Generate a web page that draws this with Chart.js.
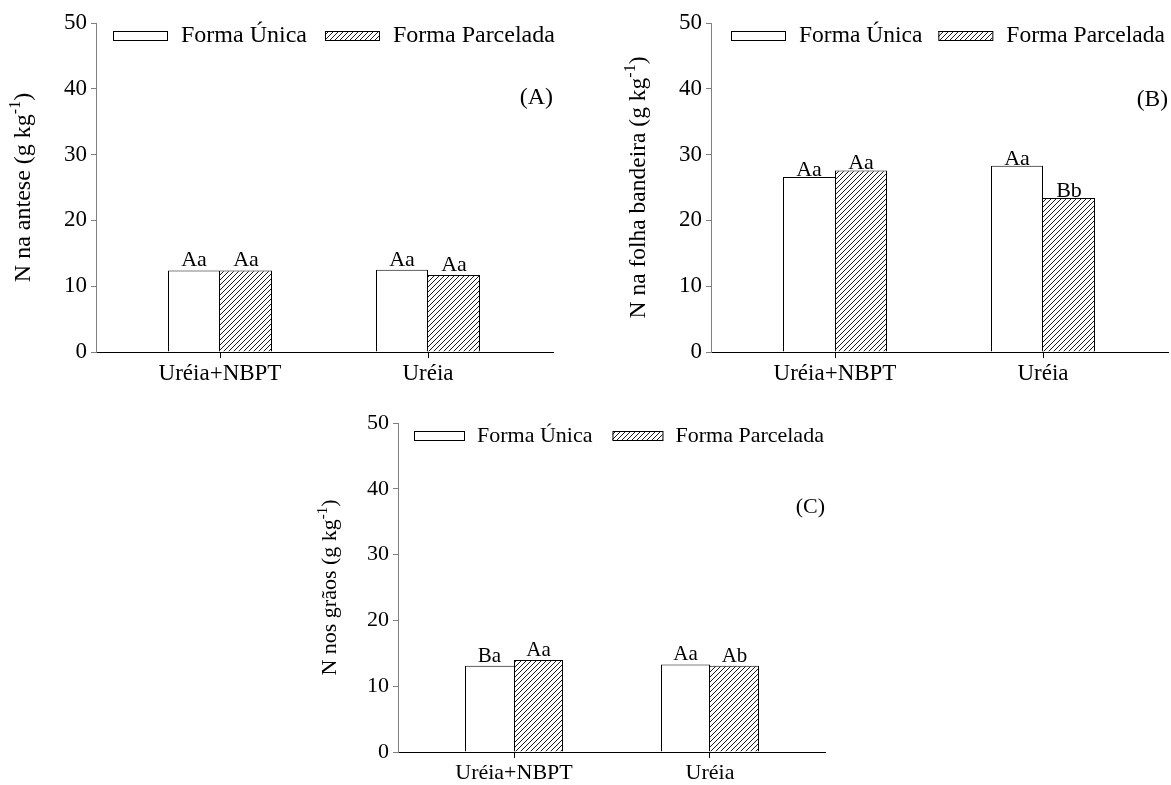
<!DOCTYPE html>
<html>
<head>
<meta charset="utf-8">
<script src="https://cdn.jsdelivr.net/npm/chart.js@4.4.1/dist/chart.umd.min.js"></script>
<style>
  html, body { margin: 0; padding: 0; background: #fff; }
  body { width: 1171px; height: 785px; position: relative; overflow: hidden; }
  canvas { position: absolute; }
</style>
</head>
<body>
<canvas id="chartA" width="580" height="390" style="left:0;top:0"></canvas>
<canvas id="chartB" width="556" height="390" style="left:615px;top:0"></canvas>
<canvas id="chartC" width="560" height="385" style="left:302px;top:400px"></canvas>
<script>
const categories = ['Uréia+NBPT', 'Uréia'];
const seriesNames = ['Forma Única', 'Forma Parcelada'];
const yTicks = [0, 10, 20, 30, 40, 50];

// (A) N na antese
const anteseUnica = [12.4, 12.5];
const anteseParcelada = [12.4, 11.7];
const anteseLetrasUnica = ['Aa', 'Aa'];
const anteseLetrasParcelada = ['Aa', 'Aa'];

// (B) N na folha bandeira
const folhaUnica = [26.6, 28.3];
const folhaParcelada = [27.6, 23.4];
const folhaLetrasUnica = ['Aa', 'Aa'];
const folhaLetrasParcelada = ['Aa', 'Bb'];

// (C) N nos grãos
const graosUnica = [13.1, 13.3];
const graosParcelada = [14.0, 13.1];
const graosLetrasUnica = ['Ba', 'Aa'];
const graosLetrasParcelada = ['Aa', 'Ab'];

const FONT = '"Liberation Serif", "Times New Roman", serif';

// diagonal hatch used for "Forma Parcelada"
function makeHatch() {
    const c = document.createElement('canvas');
    c.width = 5; c.height = 5;
    const g = c.getContext('2d');
    g.fillStyle = '#fff';
    g.fillRect(0, 0, 5, 5);
    g.strokeStyle = '#000';
    g.lineWidth = 0.9;
    g.beginPath();
    g.moveTo(-1, 6); g.lineTo(6, -1);
    g.moveTo(-1, 1); g.lineTo(1, -1);
    g.moveTo(4, 6); g.lineTo(6, 4);
    g.stroke();
    return g.createPattern(c, 'repeat');
}
const hatch = makeHatch();

// letters over bars, legend, panel tag and y title (with superscript)
const deco = {
    id: 'deco',
    afterDatasetsDraw(chart, args, o) {
        const { ctx, chartArea: a } = chart;
        ctx.save();
        ctx.fillStyle = '#000';

        ctx.font = `${o.labelSize}px ${FONT}`;
        ctx.textAlign = 'center';
        ctx.textBaseline = 'alphabetic';
        chart.data.datasets.forEach((ds, di) => {
            chart.getDatasetMeta(di).data.forEach((bar, i) => {
                ctx.fillText(o.letters[di][i], bar.x, bar.y - o.gap);
            });
        });

        // legend
        ctx.font = `${o.fs}px ${FONT}`;
        let x = a.left + o.legX;
        const by = a.top + o.legY;
        chart.data.datasets.forEach(ds => {
            ctx.fillStyle = ds.backgroundColor;
            ctx.fillRect(x, by, o.box, 9);
            ctx.strokeStyle = '#000';
            ctx.lineWidth = 1;
            ctx.strokeRect(x + 0.5, by + 0.5, o.box, 9);
            x += o.box + o.textGap;
            ctx.fillStyle = '#000';
            ctx.textAlign = 'left';
            ctx.textBaseline = 'middle';
            ctx.fillText(ds.label, x, by + 5);
            x += ctx.measureText(ds.label).width + o.itemGap;
        });

        // (A) (B) (C)
        ctx.textAlign = 'right';
        ctx.textBaseline = 'middle';
        ctx.fillText(o.tag, a.right, a.top + o.tagY);

        // y axis title
        const supFont = `${Math.round(o.fs * 0.68)}px ${FONT}`;
        const mainFont = `${o.fs}px ${FONT}`;
        ctx.font = mainFont;
        const w1 = ctx.measureText(o.title).width;
        const w3 = ctx.measureText(')').width;
        ctx.font = supFont;
        const w2 = ctx.measureText('-1').width;
        ctx.translate(a.left - o.titleDx, (a.top + a.bottom) / 2);
        ctx.rotate(-Math.PI / 2);
        ctx.textAlign = 'left';
        ctx.textBaseline = 'alphabetic';
        let tx = -(w1 + w2 + w3) / 2;
        ctx.font = mainFont;
        ctx.fillText(o.title, tx, 0);
        tx += w1;
        ctx.font = supFont;
        ctx.fillText('-1', tx, -o.fs * 0.42);
        tx += w2;
        ctx.font = mainFont;
        ctx.fillText(')', tx, 0);
        ctx.restore();
    }
};

function makeChart(id, p) {
    const toPoints = arr => arr.map((v, i) => ({ x: i, y: v }));
    // the taller bar of each pair draws the shared middle line
    const unicaBorder = c => ({ top: 1, left: 1, bottom: 0, right: p.unica[c.dataIndex] >= p.parcelada[c.dataIndex] ? 1 : 0 });
    const parcBorder = c => ({ top: 1, right: 1, bottom: 0, left: p.parcelada[c.dataIndex] > p.unica[c.dataIndex] ? 1 : 0 });
    return new Chart(document.getElementById(id), {
        type: 'bar',
        data: {
            datasets: [
                { label: seriesNames[0], data: toPoints(p.unica), backgroundColor: '#fff', borderColor: '#000', borderWidth: unicaBorder, categoryPercentage: 0.5, barPercentage: 1 },
                { label: seriesNames[1], data: toPoints(p.parcelada), backgroundColor: hatch, borderColor: '#000', borderWidth: parcBorder, categoryPercentage: 0.5, barPercentage: 1 }
            ]
        },
        options: {
            responsive: false,
            animation: false,
            layout: { padding: { left: 52, top: 23, right: p.padRight, bottom: 0 } },
            plugins: {
                legend: { display: false },
                tooltip: { enabled: false },
                deco: {
                    letters: p.letters, gap: p.gap, labelSize: p.labelSize, fs: p.fs,
                    legX: p.legX, legY: 8, box: p.box, textGap: p.textGap, itemGap: p.itemGap,
                    tag: p.tag, tagY: p.tagY, title: p.title, titleDx: p.titleDx
                }
            },
            scales: {
                x: {
                    type: 'linear',
                    offset: false,
                    min: p.xMin,
                    max: p.xMax,
                    afterBuildTicks: s => { s.ticks = categories.map((c, i) => ({ value: i })); },
                    afterFit: s => { s.height = p.xHeight; },
                    ticks: { callback: v => categories[v], color: '#000', font: { family: FONT, size: p.tickSize }, padding: 2, autoSkip: false, maxRotation: 0 },
                    grid: { offset: false, drawOnChartArea: false, tickLength: 6, color: '#000' },
                    border: { color: '#000', width: 1 }
                },
                y: {
                    min: 0,
                    max: 50,
                    afterBuildTicks: s => { s.ticks = yTicks.map(v => ({ value: v })); },
                    afterFit: s => { s.width = 44; },
                    ticks: { color: '#000', font: { family: FONT, size: p.tickSize }, padding: 4 },
                    grid: { drawOnChartArea: false, tickLength: 5, color: '#808080' },
                    border: { color: '#808080', width: 1 }
                }
            }
        },
        plugins: [deco]
    });
}

makeChart('chartA', {
    unica: anteseUnica, parcelada: anteseParcelada,
    letters: [anteseLetrasUnica, anteseLetrasParcelada],
    title: 'N na antese (g kg', tag: '(A)',
    xMin: -124 / 208, xMax: 333 / 208,
    padRight: 27, xHeight: 38, fs: 24, tickSize: 23, labelSize: 22, gap: 4,
    legX: 17, box: 54, textGap: 14, itemGap: 18, tagY: 75, titleDx: 66
});
makeChart('chartB', {
    unica: folhaUnica, parcelada: folhaParcelada,
    letters: [folhaLetrasUnica, folhaLetrasParcelada],
    title: 'N na folha bandeira (g kg', tag: '(B)',
    xMin: -124 / 208, xMax: 333 / 208,
    padRight: 3, xHeight: 38, fs: 23.5, tickSize: 23, labelSize: 22, gap: 1,
    legX: 20, box: 54, textGap: 14, itemGap: 16, tagY: 77, titleDx: 66
});
makeChart('chartC', {
    unica: graosUnica, parcelada: graosParcelada,
    letters: [graosLetrasUnica, graosLetrasParcelada],
    title: 'N nos grãos (g kg', tag: '(C)',
    xMin: -116 / 196, xMax: 311 / 196,
    padRight: 37, xHeight: 33, fs: 22, tickSize: 22, labelSize: 21, gap: 4,
    legX: 16, box: 50, textGap: 13, itemGap: 20, tagY: 84, titleDx: 62
});
</script>
</body>
</html>
